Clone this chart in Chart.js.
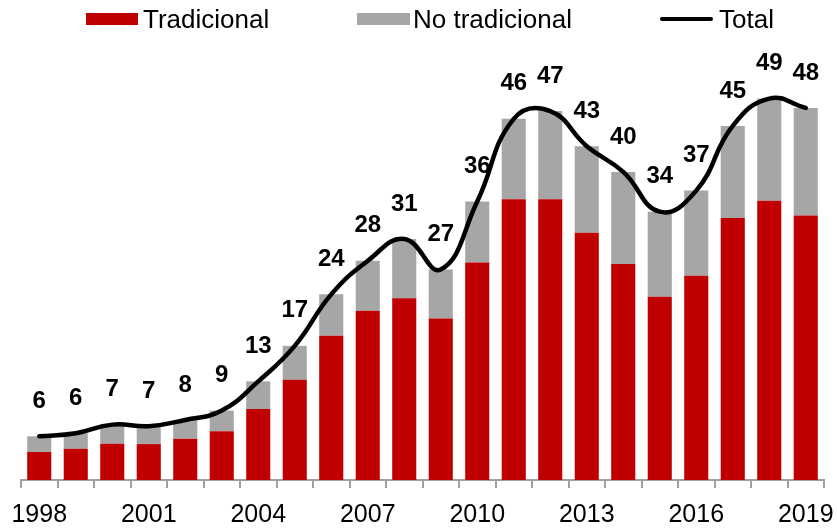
<!DOCTYPE html>
<html>
<head>
<meta charset="utf-8">
<script src="https://cdn.jsdelivr.net/npm/chart.js@4/dist/chart.umd.min.js"></script>
<style>
  html, body { margin: 0; padding: 0; background: #fff; }
  #wrap { position: relative; width: 837px; height: 530px; }
  #c { position: absolute; left: 0; top: 0; }
  .leg { position: absolute; font-family: "Liberation Sans", Arial, sans-serif; font-size: 26px; color: #000; line-height: 26px; top: 6px; white-space: nowrap; }
  .sw { position: absolute; }
</style>
</head>
<body>
<div id="wrap">
  <canvas id="c" width="837" height="530"></canvas>
  <div class="sw" style="left:86px;top:13px;width:52px;height:12px;background:#C00000"></div>
  <div class="leg" style="left:143px">Tradicional</div>
  <div class="sw" style="left:357px;top:13px;width:53px;height:12px;background:#A6A6A6"></div>
  <div class="leg" style="left:413px">No tradicional</div>
  <div class="sw" style="left:660px;top:17px;width:53px;height:4px;background:#000;border-radius:2px"></div>
  <div class="leg" style="left:719px">Total</div>
</div>
<script>
const years = ["1998","1999","2000","2001","2002","2003","2004","2005","2006","2007","2008","2009","2010","2011","2012","2013","2014","2015","2016","2017","2018","2019"];
const tradicional = [3.6, 4.0, 4.65, 4.6, 5.3, 6.25, 9.1, 12.85, 18.5, 21.7, 23.3, 20.7, 27.9, 36.0, 36.0, 31.7, 27.7, 23.5, 26.2, 33.6, 35.8, 33.9];
const noTradicional = [2.0, 2.0, 2.45, 2.2, 2.4, 2.65, 3.55, 4.35, 5.3, 6.4, 7.6, 6.3, 7.8, 10.3, 11.3, 11.1, 11.8, 10.9, 10.9, 11.8, 13.1, 13.8];
const total = [5.6, 6.0, 7.1, 6.9, 7.7, 8.9, 12.65, 17.2, 23.8, 28.1, 30.9, 27.0, 35.7, 46.3, 47.3, 42.8, 39.5, 34.4, 37.1, 45.4, 48.9, 47.7];
const shownTicks = ["1998","2001","2004","2007","2010","2013","2016","2019"];

const FONT = '"Liberation Sans", Arial, sans-serif';

const totalLabels = {
  id: 'totalLabels',
  afterDatasetsDraw(chart) {
    const meta = chart.getDatasetMeta(2);
    const ctx = chart.ctx;
    ctx.save();
    ctx.font = 'bold 24px ' + FONT;
    ctx.fillStyle = '#000';
    ctx.textAlign = 'center';
    ctx.textBaseline = 'middle';
    meta.data.forEach((pt, i) => {
      ctx.fillText(String(Math.round(total[i])), pt.x, pt.y - 35);
    });
    ctx.restore();
  }
};

new Chart(document.getElementById('c'), {
  data: {
    labels: years,
    datasets: [
      { type: 'bar', label: 'Tradicional', data: tradicional, backgroundColor: '#C00000', stack: 'bars', order: 2, barPercentage: 0.66, categoryPercentage: 1.0 },
      { type: 'bar', label: 'No tradicional', data: noTradicional, backgroundColor: '#A6A6A6', stack: 'bars', order: 2, barPercentage: 0.66, categoryPercentage: 1.0 },
      { type: 'line', label: 'Total', data: total, borderColor: '#000', borderWidth: 4.5, pointRadius: 0, tension: 0.45, stack: 'line', order: 1, borderCapStyle: 'round', clip: false }
    ]
  },
  options: {
    responsive: false,
    animation: false,
    events: [],
    layout: { padding: { top: 12, left: 21, right: 13, bottom: 0 } },
    plugins: { legend: { display: false }, tooltip: { enabled: false } },
    scales: {
      x: {
        stacked: true,
        offset: true,
        afterFit: function(scale) { scale.height = 50; scale.paddingLeft = 0; scale.paddingRight = 0; },
        grid: { offset: true, drawOnChartArea: false, drawTicks: true, tickLength: 8, color: '#A0A0A0', lineWidth: 2 },
        border: { display: true, color: '#A0A0A0', width: 2 },
        ticks: {
          autoSkip: false, maxRotation: 0, color: '#000', padding: 12,
          font: { family: FONT, size: 25 },
          callback: function(v, i) { const l = years[i]; return shownTicks.includes(l) ? l : ''; }
        }
      },
      y: { stacked: true, display: false, min: 0, max: 60 }
    }
  },
  plugins: [totalLabels]
});
</script>
</body>
</html>
